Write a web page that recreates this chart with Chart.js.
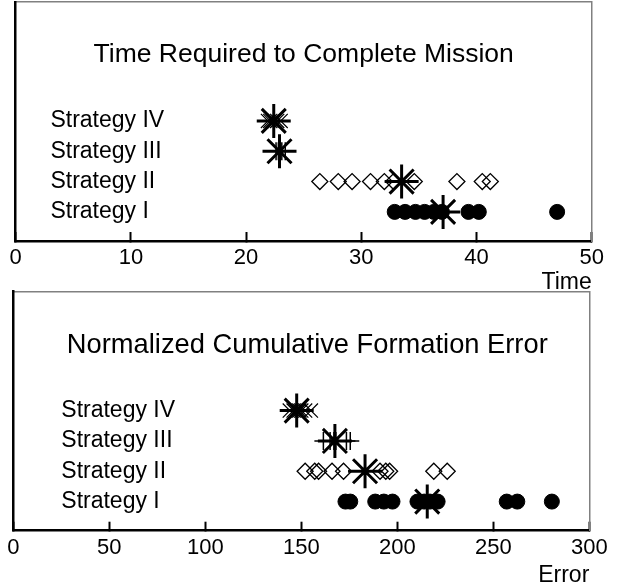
<!DOCTYPE html>
<html>
<head>
<meta charset="utf-8">
<script src="https://cdn.jsdelivr.net/npm/chart.js@4"></script>
<style>
  body { margin: 0; background: #fff; }
  canvas { position: absolute; left: 0; }
  #timeChart { top: 0; }
  #errorChart { top: 288px; }
</style>
</head>
<body>
<canvas id="timeChart" width="618" height="295"></canvas>
<canvas id="errorChart" width="618" height="297"></canvas>
<script>
// rows from bottom to top
const strategies = ["Strategy I", "Strategy II", "Strategy III", "Strategy IV"];
const rows = [1, 2, 3, 4];

// time required to complete mission (one array per strategy)
const timeI = [32.9, 33.8, 34.7, 35.5, 36.3, 37.0, 39.3, 40.2, 47.0];
const timeII = [26.4, 28.0, 29.2, 30.8, 32.0, 32.8, 34.6, 38.3, 40.5, 41.2];
const timeIII = [22.6, 22.8, 22.9, 23.1, 23.4];
const timeIV = [21.9, 22.1, 22.3, 22.4, 22.5, 22.7, 23.0];
const timeMeans = [37.1, 33.5, 22.9, 22.4];

// normalized cumulative formation error
const errI = [173, 175.5, 188.5, 193, 197.5, 210.5, 214, 217, 221, 257, 262.5, 280.5];
const errII = [152, 157, 159, 166, 172, 191, 194, 196, 219, 226];
const errIII = [161.5, 165, 167, 168, 173.5, 175.5];
const errIV = [144, 146, 147, 148, 149, 150, 152, 155];
const errMeans = [215.6, 183.2, 167.5, 147.6];

Chart.defaults.font.family = "'Liberation Sans', Arial, sans-serif";
Chart.defaults.color = "black";

// marker look per strategy (MATLAB-ish o, d, +, x)
const markers = [
  { pointStyle: "circle", pointRadius: 7.5, backgroundColor: "black", borderColor: "black", borderWidth: 1 },
  { pointStyle: "rectRot", pointRadius: 8, backgroundColor: "rgba(0,0,0,0)", borderColor: "black", borderWidth: 1.3 },
  { pointStyle: "cross", pointRadius: 9, borderColor: "black", borderWidth: 1.5 },
  { pointStyle: "crossRot", pointRadius: 10, borderColor: "black", borderWidth: 1.2 },
];

// title drawn inside the plot box
const boxTitle = {
  id: "boxTitle",
  afterDraw(chart, args, opts) {
    const { ctx, chartArea } = chart;
    ctx.save();
    ctx.font = opts.font;
    ctx.fillStyle = "black";
    ctx.textAlign = "center";
    ctx.textBaseline = "alphabetic";
    ctx.fillText(opts.text, (chartArea.left + chartArea.right) / 2 + opts.dx, chartArea.top + opts.dy);
    ctx.restore();
  },
};

// keep the label overflow from pushing the plot box around
function noPad(s) {
  s.paddingTop = 0;
  s.paddingBottom = 0;
  s.paddingLeft = 0;
  s.paddingRight = 0;
}

function makeChart(id, series, means, cfg) {
  const datasets = [
    {
      label: "mean",
      data: means.map((v, i) => ({ x: v, y: rows[i] })),
      pointStyle: "star",
      pointRadius: 17,
      borderColor: "black",
      borderWidth: 3,
      order: 0,
    },
  ];
  series.forEach((vals, i) => {
    datasets.push(Object.assign({
      label: strategies[i],
      data: vals.map((v) => ({ x: v, y: rows[i] })),
      order: 1,
    }, markers[i]));
  });

  return new Chart(document.getElementById(id), {
    type: "scatter",
    data: { datasets },
    plugins: [boxTitle],
    options: {
      responsive: false,
      animation: false,
      layout: { autoPadding: false, padding: cfg.padding },
      plugins: {
        legend: { display: false },
        tooltip: { enabled: false },
        boxTitle: { text: cfg.title, font: cfg.titleFont, dx: cfg.titleDx, dy: cfg.titleDy },
      },
      scales: {
        x: {
          type: "linear",
          position: "bottom",
          min: cfg.xMin,
          max: cfg.xMax,
          afterFit: (s) => { s.height = cfg.xHeight; noPad(s); },
          ticks: { stepSize: cfg.xStep, padding: 13, font: { size: 22 } },
          grid: { drawOnChartArea: false, tickLength: -9, tickWidth: 2, tickColor: "black" },
          border: { color: "black", width: 2.5 },
          title: {
            display: true,
            text: cfg.xTitle,
            align: "end",
            font: { size: 23 },
            padding: { top: 0, bottom: cfg.xTitlePad },
          },
        },
        x2: {
          type: "linear",
          position: "top",
          display: true,
          afterFit: (s) => { s.height = 0; noPad(s); },
          ticks: { display: false },
          grid: { display: false, drawTicks: false },
          border: { color: "#808080", width: 1.5 },
        },
        y: {
          type: "linear",
          position: "left",
          min: 0.04,
          max: 7.92,
          afterFit: (s) => { s.width = 0; noPad(s); },
          afterBuildTicks: (s) => { s.ticks = rows.map((v) => ({ value: v })); },
          ticks: {
            mirror: true,
            padding: cfg.labelPad,
            font: { size: 23 },
            callback: (v) => strategies[rows.indexOf(v)],
          },
          grid: { display: false, drawTicks: false },
          border: { color: "black", width: 2.5 },
        },
        y2: {
          type: "linear",
          position: "right",
          display: true,
          afterFit: (s) => { s.width = 0; noPad(s); },
          ticks: { display: false },
          grid: { display: false, drawTicks: false },
          border: { color: "#808080", width: 1.5 },
        },
      },
    },
  });
}

makeChart("timeChart", [timeI, timeII, timeIII, timeIV], timeMeans, {
  title: "Time Required to Complete Mission",
  titleFont: "26.5px 'Liberation Sans', Arial, sans-serif",
  titleDx: 0,
  titleDy: 59.7,
  padding: { left: 15.7, right: 26.3, top: 2, bottom: 0 },
  xMin: 0, xMax: 50, xStep: 10,
  xHeight: 54,
  xTitle: "Time",
  xTitlePad: -1.5,
  labelPad: 34.7,
});

makeChart("errorChart", [errI, errII, errIII, errIV], errMeans, {
  title: "Normalized Cumulative Formation Error",
  titleFont: "27.3px 'Liberation Sans', Arial, sans-serif",
  titleDx: 6,
  titleDy: 61.6,
  padding: { left: 13.3, right: 28.7, top: 3.7, bottom: 0 },
  xMin: 0, xMax: 300, xStep: 50,
  xHeight: 54.3,
  xTitle: "Error",
  xTitlePad: -4,
  labelPad: 48,
});
</script>
</body>
</html>
